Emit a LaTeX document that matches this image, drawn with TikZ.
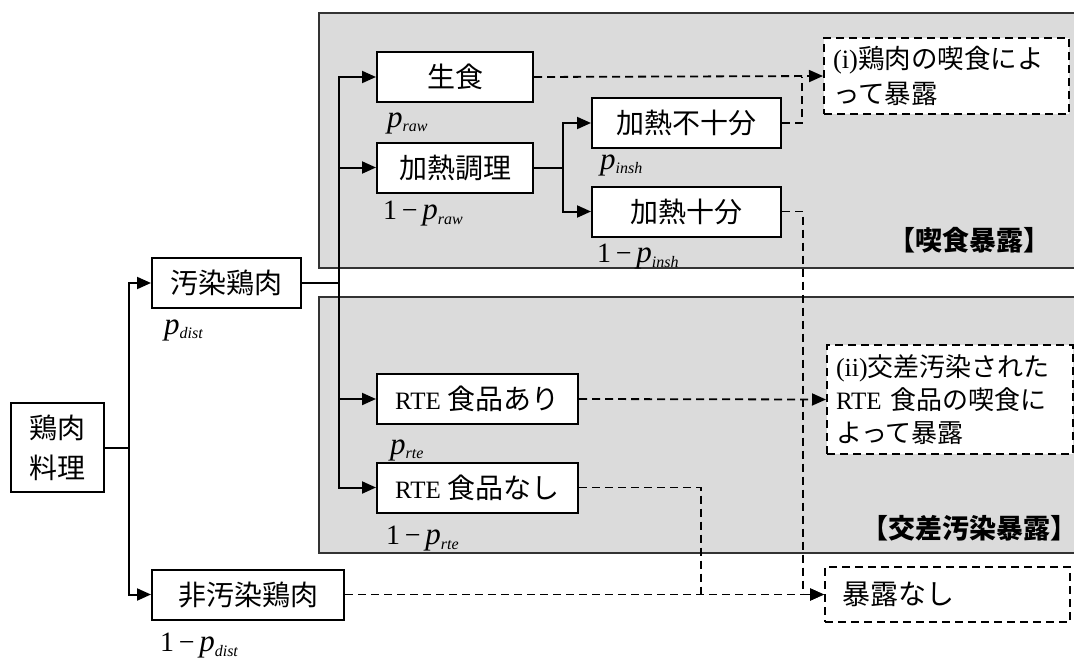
\documentclass[tikz,border=0pt]{standalone}
\usepackage{fontspec}
\setmainfont{Liberation Serif}
\newfontfamily\jp{Noto Sans CJK JP}
\usepackage{tikz}
\usetikzlibrary{arrows.meta}

\newcommand\sbs[1]{\raisebox{-0.35ex}{\fontsize{16}{16}\selectfont\textit{#1}}}
\newcommand\pv[1]{{\fontsize{31}{31}\selectfont\textit{p}}\sbs{#1}}
\newcommand\qv[1]{1\,−\,{\fontsize{31}{31}\selectfont\textit{p}}\sbs{#1}}
\newcommand\rte{{\fontsize{25}{25}\selectfont RTE}}

\begin{document}
\begin{tikzpicture}[x=1pt,y=-1pt,font=\fontsize{28}{35}\selectfont,
    box/.style={draw,line width=2pt,fill=white,minimum height=50,inner sep=0},
    goal/.style={draw,line width=2pt,dash pattern=on 8pt off 5pt,fill=white,inner sep=0,align=left},
    region/.style={draw=black!80,line width=1.3pt,fill=gray!28},
    link/.style={line width=2pt,-{Triangle[length=14pt,width=12pt]}},
    solidln/.style={line width=2pt},
    dsh/.style={line width=1.8pt,dash pattern=on 8pt off 5pt},
    tip/.style={-{Triangle[length=14pt,width=12pt]}},
    prob/.style={anchor=west,inner sep=0},
    tag/.style={inner sep=0,font=\jp\bfseries\fontsize{27}{27}\selectfont}]
    \useasboundingbox (0,0) rectangle (1074,659);
    % regions
    \draw[region] (319,13) rectangle (1085,268);
    \draw[region] (319,297) rectangle (1085,553);
    \node[tag] (eatlab) at (969,240) {【喫食暴露】};
    \node[tag] (crosslab) at (969,528) {【交差汚染暴露】};
    % boxes
    \node[box,minimum width=93,minimum height=89,align=center,font=\jp\fontsize{28}{40}\selectfont] (dish) at (57.5,447.5) {鶏肉\\料理};
    \node[box,minimum width=149] (cont) at (226.5,283) {\jp 汚染鶏肉};
    \node[box,minimum width=192] (clean) at (248,594.5) {\jp 非汚染鶏肉};
    \node[box,minimum width=156] (raw) at (455,77) {\jp 生食};
    \node[box,minimum width=156] (heat) at (455,167.5) {\jp 加熱調理};
    \node[box,minimum width=189] (insh) at (686.5,123) {\jp 加熱不十分};
    \node[box,minimum width=189] (sh) at (686.5,211.5) {\jp 加熱十分};
    \node[box,minimum width=201] (rtey) at (477.5,399) {\rte~{\jp 食品あり}};
    \node[box,minimum width=201] (rten) at (477.5,487.5) {\rte~{\jp 食品なし}};
    \node[goal,minimum width=245,minimum height=76,text width=227,font=\fontsize{26.5}{35}\selectfont] (ex1) at (946.5,76) {(i){\jp 鶏肉の喫食によ}\\{\jp って暴露}};
    \node[goal,minimum width=246,minimum height=109,text width=228,font=\fontsize{26}{33}\selectfont] (ex2) at (950,399.5) {(ii){\jp 交差汚染された}\\\rte~{\jp 食品の喫食に}\\{\jp よって暴露}};
    \node[goal,minimum width=245,minimum height=55,text width=211] (none) at (947.5,594.5) {\jp 暴露なし};
    % probabilities
    \node[prob] (pdist) at (164,330) {\pv{dist}};
    \node[prob] (qdist) at (160,646) {\qv{dist}};
    \node[prob] (praw) at (387,123) {\pv{raw}};
    \node[prob] (qraw) at (383,214) {\qv{raw}};
    \node[prob] (pinsh) at (600,165) {\pv{insh}};
    \node[prob] (qinsh) at (597,257) {\qv{insh}};
    \node[prob] (prte) at (390,450) {\pv{rte}};
    \node[prob] (qrte) at (386,539) {\qv{rte}};
    % joints
    \coordinate (tr) at (339,283);
    \coordinate (j1) at (802,77);
    \coordinate (j3) at (701,594.5);
    % solid links
    \draw[link] (dish.east) -- ++(24,0) |- (cont.west);
    \draw[link] (dish.east) -- ++(24,0) |- (clean.west);
    \draw[solidln] (cont.east) -- (tr);
    \draw[link] (tr) |- (raw.west);
    \draw[link] (tr) |- (heat.west);
    \draw[link] (tr) |- (rtey.west);
    \draw[link] (tr) |- (rten.west);
    \draw[link] (heat.east) -- ++(29,0) |- (insh.west);
    \draw[link] (heat.east) -- ++(29,0) |- (sh.west);
    % dashed links
    \draw[dsh,tip] (raw.east) -- (ex1.west);
    \draw[dsh] (insh.east) -| (j1);
    \draw[dsh,tip] (sh.east) -- ++(21,0) |- (none.west);
    \draw[dsh,tip] (rtey.east) -- (ex2.west);
    \draw[dsh] (rten.east) -| (j3);
    \draw[dsh,tip] (clean.east) -- (none.west);
\end{tikzpicture}
\end{document}
